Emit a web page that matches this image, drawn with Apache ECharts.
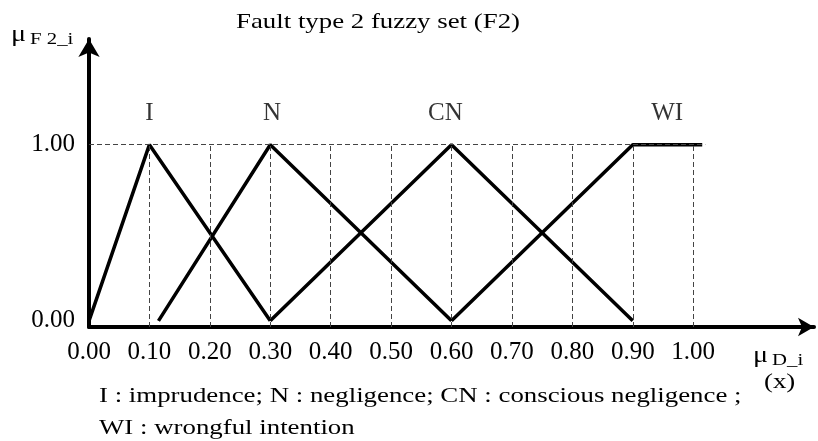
<!DOCTYPE html>
<html>
<head>
  <meta charset="utf-8" />
  <title>Fault type 2 fuzzy set</title>
  <script src="https://cdn.jsdelivr.net/npm/echarts@6/dist/echarts.min.js"></script>
  <style>
    html, body { margin: 0; padding: 0; background: #fff; }
  </style>
</head>
<body>
<div id="main" style="width:818px;height:441px;"></div>
<script type="text/javascript">
  // membership functions
  var setNames = ['I', 'N', 'CN', 'WI'];
  var setI  = [[0, 0], [0.1, 1], [0.3, 0]];
  var setN  = [[0.115, 0], [0.3, 1], [0.6, 0]];
  var setCN = [[0.3, 0], [0.6, 1], [0.9, 0]];
  var setWI = [[0.6, 0], [0.9, 1], [1.015, 1]];
  var nameX = [0.1, 0.303, 0.59, 0.957];
  var nameY = 1.18;
  var xTicks = [0, 0.1, 0.2, 0.3, 0.4, 0.5, 0.6, 0.7, 0.8, 0.9, 1.0];
  var yTicks = [0, 1];
  var gridX = [0.1, 0.2, 0.3, 0.4, 0.5, 0.6, 0.7, 0.8, 0.9, 1.0];

  var serif = "'Liberation Serif', 'Times New Roman', serif";
  var yMin = -0.035;
  var stretch = 1.22; // the original type is a bit wider than Times

  var myChart = echarts.init(document.getElementById('main'));

  var guides = gridX.map(function (x) {
    return [{ coord: [x, yMin] }, { coord: [x, 1] }];
  });
  guides.push([{ coord: [0, 1] }, { coord: [1.02, 1] }]);

  function curve(name, data) {
    return {
      name: name,
      type: 'line',
      data: data,
      symbol: 'none',
      lineStyle: { color: '#000', width: 3.5 }
    };
  }

  function wideText(x, y, str, size) {
    return {
      type: 'text',
      x: x,
      y: y,
      scaleX: stretch,
      style: { text: str, font: size + 'px ' + serif, fill: '#000' }
    };
  }

  var option = {
    backgroundColor: '#fff',
    animation: false,
    grid: { left: 89, right: 4, top: 39, bottom: 114 },
    xAxis: {
      type: 'value',
      min: 0,
      max: 1.2,
      interval: 0.1,
      splitLine: { show: false },
      axisTick: { show: false },
      axisLine: {
        onZero: false,
        symbol: ['none', 'arrow'],
        symbolSize: [14, 16],
        lineStyle: { color: '#000', width: 4 }
      },
      axisLabel: {
        customValues: xTicks,
        formatter: function (v) { return v.toFixed(2); },
        fontFamily: serif,
        fontSize: 25,
        color: '#000',
        margin: 13
      }
    },
    yAxis: {
      type: 'value',
      min: yMin,
      max: 1.6,
      splitLine: { show: false },
      axisTick: { show: false },
      axisLine: {
        onZero: false,
        symbol: ['none', 'arrow'],
        symbolSize: [16, 18],
        lineStyle: { color: '#000', width: 4 }
      },
      axisLabel: {
        customValues: yTicks,
        formatter: function (v) { return v.toFixed(2); },
        fontFamily: serif,
        fontSize: 25,
        color: '#000',
        margin: 14
      }
    },
    series: [
      {
        type: 'line',
        data: [],
        silent: true,
        markLine: {
          silent: true,
          symbol: 'none',
          label: { show: false },
          lineStyle: { color: '#444', width: 1, type: [5, 3] },
          data: guides
        }
      },
      curve('I', setI),
      curve('N', setN),
      curve('CN', setCN),
      curve('WI', setWI),
      {
        type: 'scatter',
        symbolSize: 0,
        silent: true,
        data: setNames.map(function (n, i) { return { name: n, value: [nameX[i], nameY] }; }),
        label: {
          show: true,
          position: 'inside',
          formatter: '{b}',
          fontFamily: serif,
          fontSize: 25,
          color: '#000'
        }
      }
    ],
    graphic: [
      wideText(236, 11, 'Fault type 2 fuzzy set (F2)', 22),
      {
        type: 'text',
        x: 11,
        y: 21,
        scaleX: stretch,
        style: {
          text: '{m|μ} {s|F 2_i}',
          rich: {
            m: { fontFamily: serif, fontSize: 23, fill: '#000' },
            s: { fontFamily: serif, fontSize: 17, fill: '#000', padding: [10, 0, 0, 0] }
          }
        }
      },
      {
        type: 'text',
        x: 753,
        y: 342,
        scaleX: stretch,
        style: {
          text: '{m|μ} {s|D_i}',
          rich: {
            m: { fontFamily: serif, fontSize: 23, fill: '#000' },
            s: { fontFamily: serif, fontSize: 17, fill: '#000', padding: [10, 0, 0, 0] }
          }
        }
      },
      wideText(764, 371, '(x)', 22),
      wideText(99, 385, 'I : imprudence; N : negligence; CN : conscious negligence ;', 22),
      wideText(99, 417, 'WI : wrongful intention', 22)
    ]
  };

  myChart.setOption(option);
</script>
</body>
</html>
